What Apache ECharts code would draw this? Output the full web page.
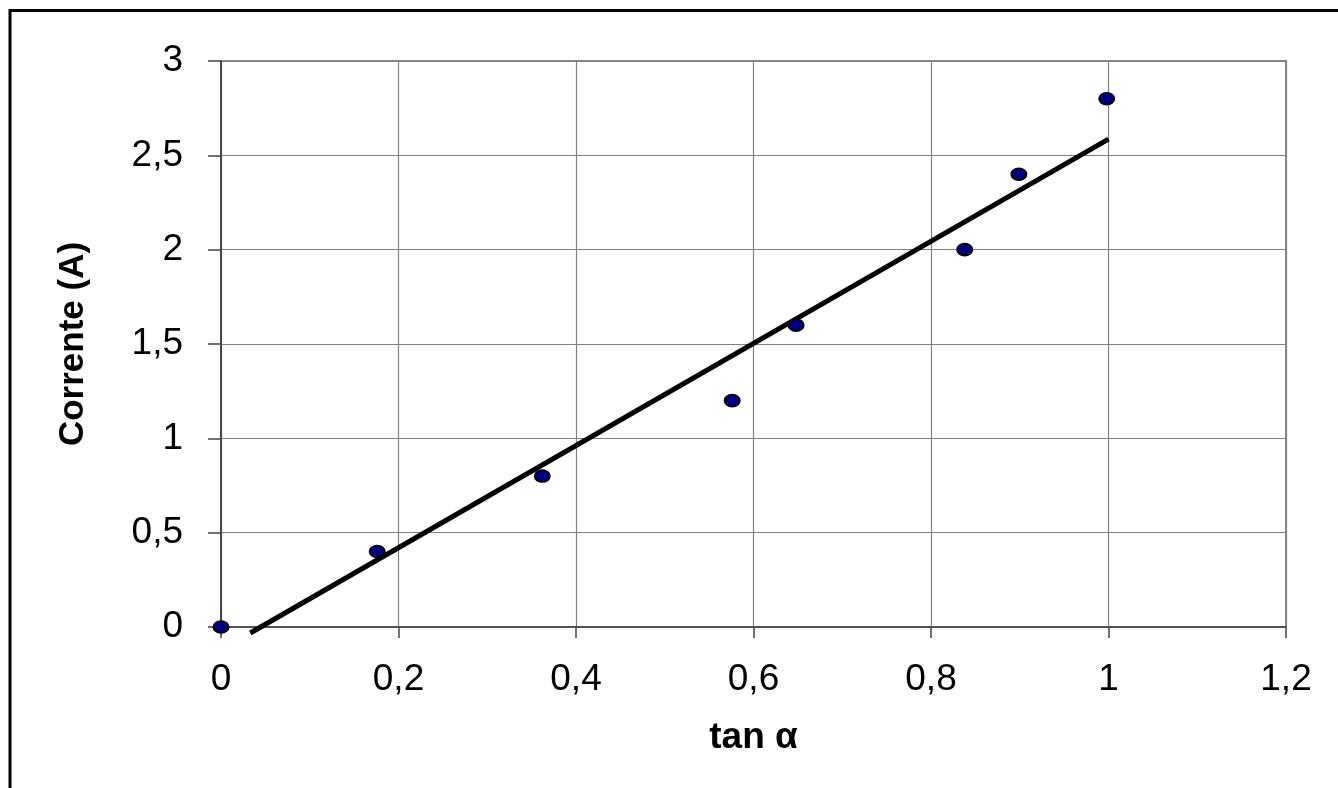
<!DOCTYPE html>
<html>
<head>
<meta charset="utf-8">
<script src="https://cdn.jsdelivr.net/npm/echarts@6/dist/echarts.min.js"></script>
<style>
  html, body { margin: 0; padding: 0; background: #fff; }
  #chart { width: 1338px; height: 788px; }
</style>
</head>
<body>
<div id="chart"></div>
<script>
// Data
const tanAlpha = [0, 0.176, 0.362, 0.576, 0.648, 0.838, 0.899, 0.998];
const corrente = [0, 0.4, 0.8, 1.2, 1.6, 2.0, 2.4, 2.8];
// Trend line end points
const trendX = [0.033, 1.0];
const trendY = [-0.032, 2.586];
const xTitle = 'tan α';
const yTitle = 'Corrente (A)';

const fmt = v => String(v).replace('.', ',');
const FONT = '"Liberation Sans", Arial, sans-serif';

const chart = echarts.init(document.getElementById('chart'), null, { renderer: 'canvas' });
chart.setOption({
  animation: false,
  backgroundColor: '#fff',
  graphic: [{
    type: 'rect',
    shape: { x: 10, y: 10.5, width: 1500, height: 1000 },
    style: { fill: 'none', stroke: '#000', lineWidth: 3 },
    silent: true,
    z: 100
  }],
  grid: {
    left: 221, right: 52, top: 61, bottom: 161,
    show: true, borderColor: '#888', borderWidth: 2, backgroundColor: '#fff'
  },
  xAxis: {
    type: 'value', min: 0, max: 1.2, interval: 0.2,
    name: xTitle, nameLocation: 'middle', nameGap: 92,
    nameTextStyle: { fontFamily: FONT, fontWeight: 'bold', fontSize: 37, color: '#000' },
    axisLine: { show: true, onZero: false, lineStyle: { color: '#444', width: 1.5 } },
    axisTick: { show: true, inside: false, length: 11, lineStyle: { color: '#444', width: 1.5 } },
    axisLabel: { fontFamily: FONT, fontSize: 37, color: '#000', margin: 34, formatter: fmt,
                 showMinLabel: true, showMaxLabel: true },
    splitLine: { show: true, lineStyle: { color: '#808080', width: 1.2 } }
  },
  yAxis: {
    type: 'value', min: 0, max: 3, interval: 0.5,
    name: yTitle, nameLocation: 'middle', nameGap: 130, nameRotate: 90,
    nameTextStyle: { fontFamily: FONT, fontWeight: 'bold', fontSize: 35, color: '#000' },
    axisLine: { show: true, onZero: false, lineStyle: { color: '#333', width: 1.5 } },
    axisTick: { show: true, inside: false, length: 13, lineStyle: { color: '#444', width: 1.5 } },
    axisLabel: { fontFamily: FONT, fontSize: 37, color: '#000', margin: 38, formatter: fmt },
    splitLine: { show: true, lineStyle: { color: '#808080', width: 1.2 } }
  },
  series: [
    {
      type: 'line',
      data: trendX.map((x, i) => [x, trendY[i]]),
      showSymbol: false,
      clip: false,
      lineStyle: { color: '#000', width: 5 },
      z: 2,
      silent: true
    },
    {
      type: 'scatter',
      data: tanAlpha.map((x, i) => [x, corrente[i]]),
      symbol: 'path://M0,6 A7.5,6 0 1,1 15,6 A7.5,6 0 1,1 0,6 Z',
      symbolSize: [15, 12],
      itemStyle: { color: '#000080', borderColor: '#000', borderWidth: 1.8, opacity: 1 },
      z: 3
    }
  ]
});
</script>
</body>
</html>
